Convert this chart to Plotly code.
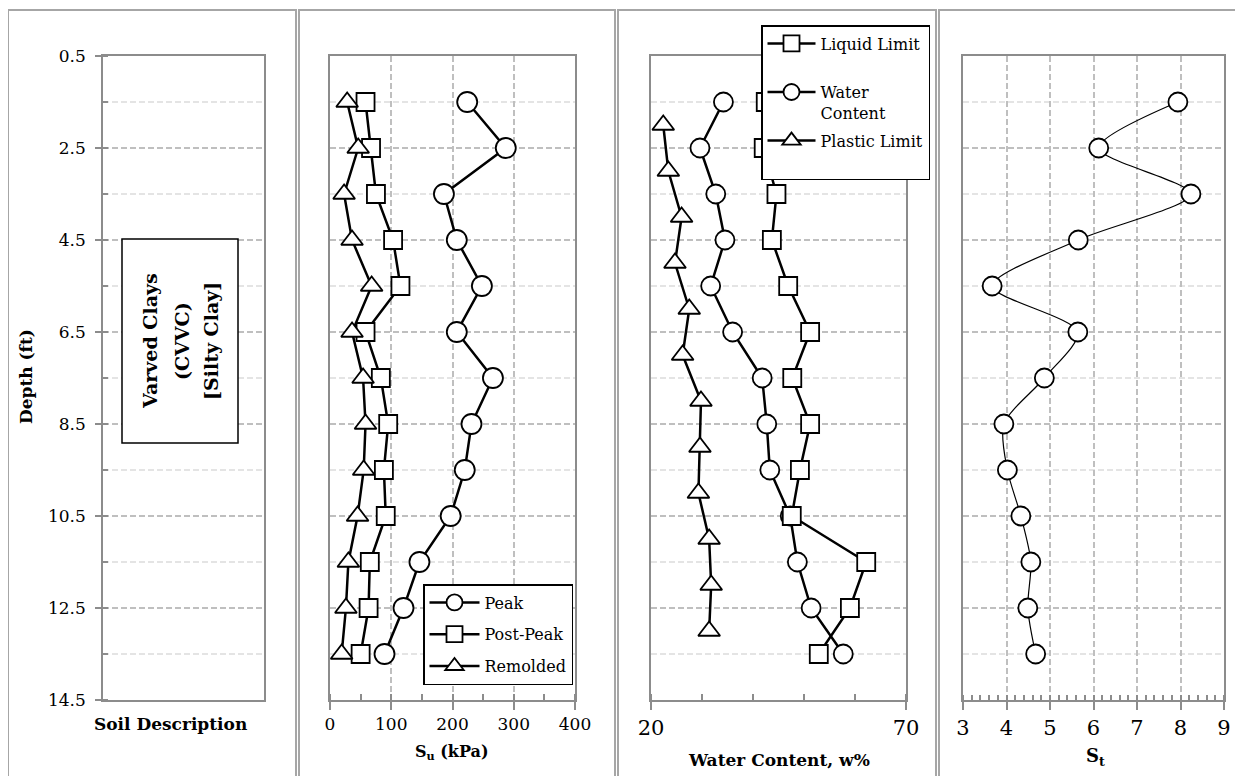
import plotly.graph_objects as go

# ---------------- data ----------------
depth = [1.5, 2.5, 3.5, 4.5, 5.5, 6.5, 7.5, 8.5, 9.5, 10.5, 11.5, 12.5, 13.5]
su_peak = [224, 287, 186, 207, 248, 207, 266, 231, 220, 197, 146, 120, 89]
su_post = [58, 67, 75, 103, 115, 58, 83, 95, 88, 91, 65, 63, 50]
su_remolded = [28, 46, 23, 36, 68, 36, 54, 58, 55, 45, 30, 26, 19]

water_content = [34.2, 29.6, 32.7, 34.5, 31.7, 36.0, 41.8, 42.7, 43.3, 47.3, 48.7, 51.4, 57.7]
liquid_limit = [42.5, 42.1, 44.6, 43.7, 46.9, 51.2, 47.7, 51.2, 49.2, 47.6, 62.2, 59.0, 52.9]
pl_depth = [2, 3, 4, 5, 6, 7, 8, 9, 10, 11, 12, 13]
plastic_limit = [22.4, 23.4, 26.0, 24.7, 27.5, 26.2, 29.8, 29.6, 29.3, 31.4, 31.8, 31.4]

sensitivity = [7.94, 6.12, 8.24, 5.65, 3.67, 5.64, 4.87, 3.94, 4.02, 4.33, 4.56, 4.49, 4.67]

soil_lines = ["Varved Clays", "(CVVC)", "[Silty Clay]"]
# ---------------------------------------

W, H = 1243, 776
OFF = 8  # page body margin
FW, FH = W - OFF, H - OFF
FONT = "DejaVu Serif"
GRID = "#bfbfbf"
MINORGRID = "#e4e4e4"
AXIS = "#8c8c8c"
DASH = "6px,3px"
NB = "\u00a0"


def px(p):
    return (p - OFF) / FW


def py(p):
    return 1 - (p - OFF) / FH


ydom = [py(700), py(56)]

fig = go.Figure()

mk = dict(color="white", line=dict(color="black", width=1.8))

# panel 1 placeholder
fig.add_trace(go.Scatter(x=[], y=[], xaxis="x", yaxis="y", showlegend=False))

# panel 2
fig.add_trace(go.Scatter(x=su_peak, y=depth, xaxis="x2", yaxis="y2", mode="lines+markers",
                         name="Peak", legend="legend", legendgroup="a",
                         line=dict(color="black", width=2.5),
                         marker=dict(symbol="circle", size=20, **mk)))
fig.add_trace(go.Scatter(x=su_post, y=depth, xaxis="x2", yaxis="y2", mode="lines+markers",
                         name="Post-Peak", legend="legend", legendgroup="b",
                         line=dict(color="black", width=2.5),
                         marker=dict(symbol="square", size=18, **mk)))
fig.add_trace(go.Scatter(x=su_remolded, y=depth, xaxis="x2", yaxis="y2", mode="lines+markers",
                         name="Remolded", legend="legend", legendgroup="c",
                         line=dict(color="black", width=2.5),
                         marker=dict(symbol="triangle-up", size=19, **mk)))

# panel 3
fig.add_trace(go.Scatter(x=plastic_limit, y=pl_depth, xaxis="x3", yaxis="y3", mode="lines+markers",
                         name="Plastic Limit<br>" + NB, legend="legend2", legendgroup="f",
                         legendrank=3,
                         line=dict(color="black", width=2.5),
                         marker=dict(symbol="triangle-up", size=19, **mk)))
fig.add_trace(go.Scatter(x=water_content, y=depth, xaxis="x3", yaxis="y3", mode="lines+markers",
                         name="Water<br>Content", legend="legend2", legendgroup="e", legendrank=2,
                         line=dict(color="black", width=2.5),
                         marker=dict(symbol="circle", size=19, **mk)))
fig.add_trace(go.Scatter(x=liquid_limit, y=depth, xaxis="x3", yaxis="y3", mode="lines+markers",
                         name="Liquid Limit<br>" + NB, legend="legend2", legendgroup="d",
                         legendrank=1,
                         line=dict(color="black", width=2.5),
                         marker=dict(symbol="square", size=18, **mk)))

# panel 4
fig.add_trace(go.Scatter(x=sensitivity, y=depth, xaxis="x4", yaxis="y4", mode="lines+markers",
                         showlegend=False,
                         line=dict(color="black", width=1.2, shape="spline", smoothing=0.8),
                         marker=dict(symbol="circle", size=19, color="white",
                                     line=dict(color="black", width=1.8))))


def yax(anchor, labels):
    d = dict(domain=ydom, range=[14.5, 0.5], autorange=False, anchor=anchor, automargin=False,
             tick0=0.5, dtick=2, showgrid=True, gridcolor=GRID, gridwidth=1.5, griddash=DASH,
             showline=True, linecolor=AXIS, linewidth=1.5, mirror=True, zeroline=False,
             minor=dict(tick0=0.5, dtick=1, showgrid=True, gridcolor=MINORGRID,
                        gridwidth=1.5, griddash=DASH))
    if labels:
        d.update(ticks="outside", ticklen=6, tickwidth=1.5, tickcolor=AXIS,
                 showticklabels=True, tickfont=dict(size=17, color="black"),
                 ticklabelstandoff=6)
        d["minor"].update(ticks="inside", ticklen=5, tickwidth=1.5, tickcolor=AXIS)
    else:
        d.update(ticks="", showticklabels=False)
    return d


xcommon = dict(showline=True, linecolor=AXIS, linewidth=1.5, mirror=True, zeroline=False,
               automargin=False)

fig.update_layout(
    width=FW, height=FH,
    margin=dict(l=0, r=0, t=0, b=0, pad=0, autoexpand=False),
    paper_bgcolor="white", plot_bgcolor="white",
    font=dict(family=FONT, color="black"),
    xaxis=dict(domain=[px(103), px(264)], range=[0, 1], anchor="y", showticklabels=False,
               ticks="", showgrid=False, **xcommon),
    yaxis=yax("x", True),
    xaxis2=dict(domain=[px(330), px(575)], range=[0, 400], anchor="y2", dtick=100,
                ticks="outside", ticklen=8, tickwidth=1.5, tickcolor=AXIS,
                tickfont=dict(size=17, color="black"),
                showgrid=True, gridcolor=GRID, gridwidth=1.5, griddash=DASH,
                minor=dict(dtick=50, ticks="inside", ticklen=6, tickwidth=1.5, tickcolor=AXIS),
                **xcommon),
    yaxis2=yax("x2", False),
    xaxis3=dict(domain=[px(651), px(906)], range=[20, 70], anchor="y3", tick0=20, dtick=50,
                ticks="outside", ticklen=8, tickwidth=1.5, tickcolor=AXIS,
                tickfont=dict(size=21, color="black"), showgrid=False,
                minor=dict(tick0=20, dtick=10, ticks="inside", ticklen=6, tickwidth=1.5,
                           tickcolor=AXIS),
                **xcommon),
    yaxis3=yax("x3", False),
    xaxis4=dict(domain=[px(963), px(1224)], range=[3, 9], anchor="y4", dtick=1,
                ticks="outside", ticklen=8, tickwidth=1.5, tickcolor=AXIS,
                tickfont=dict(size=21, color="black"),
                showgrid=True, gridcolor=GRID, gridwidth=1.5, griddash=DASH,
                minor=dict(dtick=0.2, ticks="inside", ticklen=5, tickwidth=1.5, tickcolor=AXIS),
                **xcommon),
    yaxis4=yax("x4", False),
    legend=dict(x=px(423), y=py(584), xanchor="left", yanchor="top",
                bgcolor="white", bordercolor="black", borderwidth=1.5,
                font=dict(size=16, family=FONT, color="black"),
                itemwidth=50, tracegroupgap=8, traceorder="grouped"),
    legend2=dict(x=px(761), y=py(25), xanchor="left", yanchor="top",
                 bgcolor="white", bordercolor="black", borderwidth=1.5,
                 font=dict(size=16, family=FONT, color="black"), valign="top",
                 itemwidth=48, tracegroupgap=4, traceorder="grouped"),
)

# panel frames
shapes = []
for x0, x1 in [(8, 296), (299, 615), (618, 936), (939, 1262)]:
    shapes.append(dict(type="rect", xref="paper", yref="paper", x0=px(x0), x1=px(x1),
                       y0=py(795), y1=py(10), line=dict(color="#a6a6a6", width=2),
                       fillcolor="rgba(0,0,0,0)", layer="below"))
# soil description box
shapes.append(dict(type="rect", xref="paper", yref="paper", x0=px(122), x1=px(238),
                   y0=py(443), y1=py(239), line=dict(color="black", width=1.5),
                   fillcolor="white", layer="above"))
fig.update_layout(shapes=shapes)

ann = []
for xp, t in zip([150, 182, 211], soil_lines):
    ann.append(dict(x=px(xp), y=py(341), text="<b>%s</b>" % t,
                    textangle=-90, font=dict(size=19, family=FONT)))
ann += [
    dict(x=px(26), y=py(377), text="<b>Depth (ft)</b>", textangle=-90,
         font=dict(size=17)),
    dict(x=px(170), y=py(724), text="<b>Soil Description</b>", font=dict(size=17)),
    dict(x=px(452), y=py(752), text="<b>S<sub>u</sub> (kPa)</b>", font=dict(size=16)),
    dict(x=px(779), y=py(760), text="<b>Water Content, w%</b>", font=dict(size=17)),
    dict(x=px(1095), y=py(757), text="<b>S<sub>t</sub></b>", font=dict(size=18)),
]
for a in ann:
    a.setdefault("xref", "paper")
    a.setdefault("yref", "paper")
    a.setdefault("showarrow", False)
    a.setdefault("xanchor", "center")
    a.setdefault("yanchor", "middle")
fig.update_layout(annotations=ann)

fig.write_html("out.html")
